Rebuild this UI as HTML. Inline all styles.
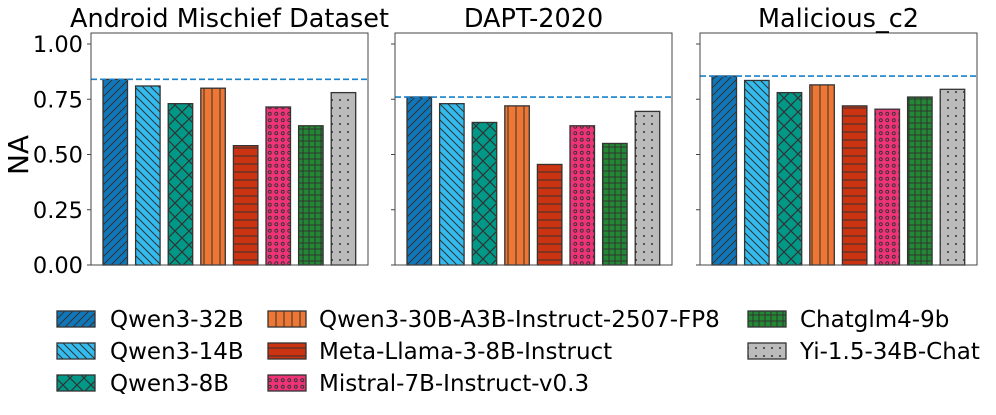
<!DOCTYPE html>
<html><head><meta charset="utf-8"><style>
html,body{margin:0;padding:0;background:#fff;}
svg text{font-family:"DejaVu Sans","Liberation Sans",sans-serif;fill:#000;}
</style></head><body>
<svg id="s" width="996" height="410" xmlns="http://www.w3.org/2000/svg">
<defs>
<pattern id="p0" width="8" height="8" patternUnits="userSpaceOnUse"><rect width="8" height="8" fill="#1177bb"/><path d="M-2,2 L2,-2 M0,8 L8,0 M6,10 L10,6" stroke="#333" stroke-width="1"/></pattern>
<pattern id="p1" width="8" height="8" patternUnits="userSpaceOnUse"><rect width="8" height="8" fill="#33bbee"/><path d="M-2,6 L2,10 M0,0 L8,8 M6,-2 L10,2" stroke="#333" stroke-width="1"/></pattern>
<pattern id="p2" width="14" height="14" patternUnits="userSpaceOnUse"><rect width="14" height="14" fill="#009988"/><path d="M0,0 L14,14 M14,0 L0,14" stroke="#333" stroke-width="1.2"/></pattern>
<pattern id="p3" width="8" height="8" patternUnits="userSpaceOnUse"><rect width="8" height="8" fill="#ee7733"/><path d="M4,0 L4,8" stroke="#333" stroke-width="1"/></pattern>
<pattern id="p4" width="8" height="8" patternUnits="userSpaceOnUse"><rect width="8" height="8" fill="#cc3311"/><path d="M0,4 L8,4" stroke="#333" stroke-width="1"/></pattern>
<pattern id="p5" width="6.5" height="6.5" patternUnits="userSpaceOnUse"><rect width="6.5" height="6.5" fill="#ee3377"/><circle cx="3.25" cy="3.25" r="1.5" fill="none" stroke="#333" stroke-width="0.9"/></pattern>
<pattern id="p6" width="6" height="6" patternUnits="userSpaceOnUse"><rect width="6" height="6" fill="#228833"/><path d="M3,0 L3,6 M0,3 L6,3" stroke="#333" stroke-width="1"/></pattern>
<pattern id="p7" width="8" height="8" patternUnits="userSpaceOnUse"><rect width="8" height="8" fill="#bbbbbb"/><circle cx="4" cy="4" r="1" fill="#333"/></pattern>
</defs>
<g id="g"></g>
</svg>
<script>
var g=document.getElementById('g'),h='';
var panels=[{l:91,t:"Android Mischief Dataset",d:0.84,v:[0.84,0.81,0.73,0.80,0.54,0.715,0.63,0.78]},
{l:395,t:"DAPT-2020",d:0.76,v:[0.76,0.73,0.645,0.72,0.455,0.63,0.55,0.695]},
{l:700,t:"Malicious_c2",d:0.855,v:[0.855,0.835,0.78,0.815,0.72,0.705,0.76,0.795]}];
var T=33,B=265,S=221,W=277;
function y(v){return B-v*S;}
panels.forEach(function(p,pi){
 p.v.forEach(function(v,i){var x=p.l+12+i*32.6;h+='<rect x="'+x+'" y="'+y(v)+'" width="24.5" height="'+(v*S)+'" fill="url(#p'+i+')" stroke="#333" stroke-width="1.3"/>';});
 h+='<line x1="'+p.l+'" x2="'+(p.l+W)+'" y1="'+y(p.d)+'" y2="'+y(p.d)+'" stroke="#1a80c8" stroke-width="1.6" stroke-dasharray="6,3"/>';
 h+='<rect x="'+p.l+'" y="'+T+'" width="'+W+'" height="'+(B-T)+'" fill="none" stroke="#444" stroke-width="1"/>';
 [0,0.25,0.5,0.75,1].forEach(function(t){h+='<line x1="'+(p.l-4)+'" x2="'+p.l+'" y1="'+y(t)+'" y2="'+y(t)+'" stroke="#444"/>';
  if(pi==0)h+='<text x="'+(p.l-8)+'" y="'+(y(t)+8)+'" font-size="22.5" text-anchor="end">'+t.toFixed(2)+'</text>';});
 h+='<text x="'+(p.l+W/2)+'" y="27" font-size="25.5" text-anchor="middle">'+p.t+'</text>';
});
h+='<text transform="translate(28,155) rotate(-90)" font-size="28" text-anchor="middle">NA</text>';
var names=["Qwen3-32B","Qwen3-14B","Qwen3-8B","Qwen3-30B-A3B-Instruct-2507-FP8","Meta-Llama-3-8B-Instruct","Mistral-7B-Instruct-v0.3","Chatglm4-9b","Yi-1.5-34B-Chat"];
var cols=[[57,110],[268,319],[748,800]];
names.forEach(function(n,i){var c=Math.floor(i/3),r=i%3,yy=311+r*32;
 h+='<rect x="'+cols[c][0]+'" y="'+yy+'" width="38" height="16" fill="url(#p'+i+')" stroke="#333" stroke-width="1.3"/>';
 h+='<text x="'+cols[c][1]+'" y="'+(yy+16)+'" font-size="23">'+n+'</text>';});
g.innerHTML=h;
</script>
</body></html>
